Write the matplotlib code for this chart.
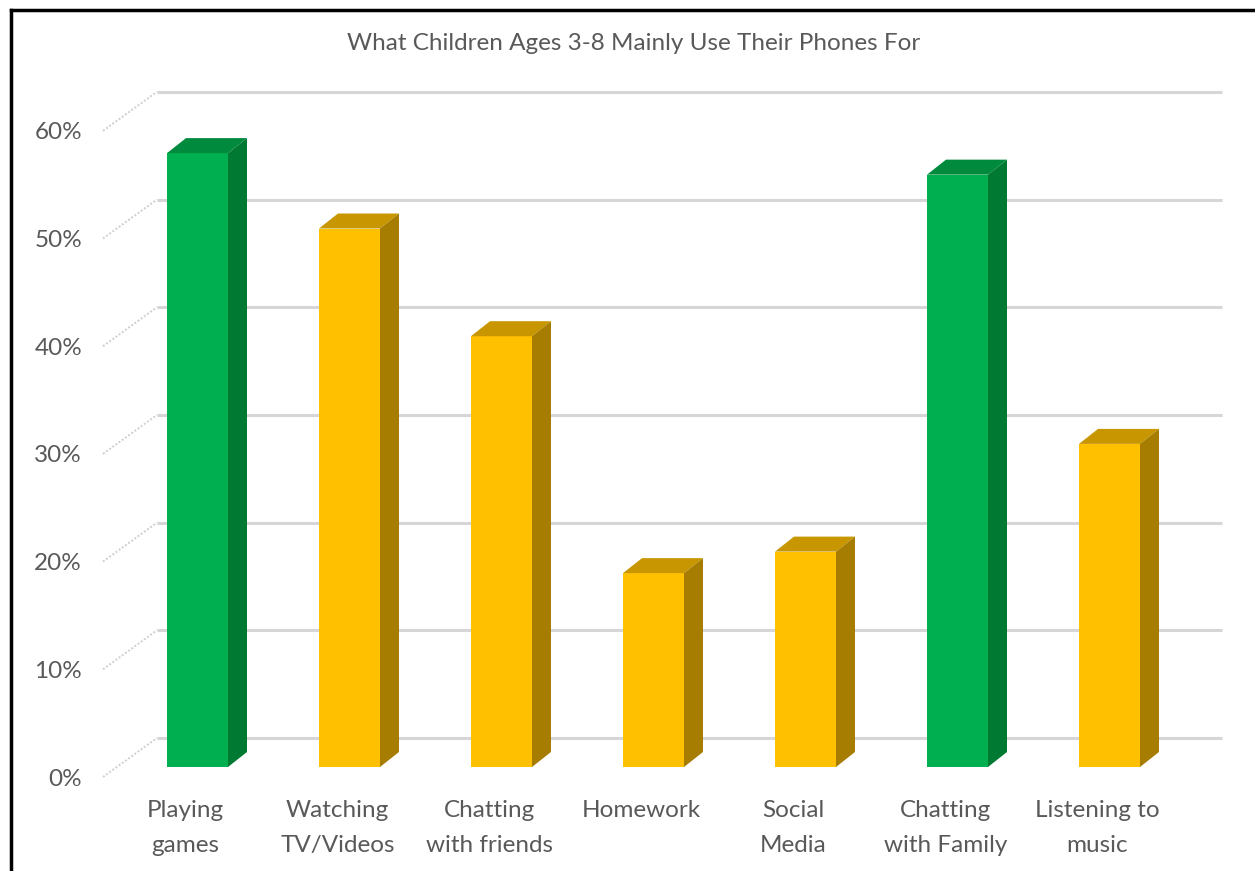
import numpy as np
import matplotlib
matplotlib.use("Agg")
import matplotlib.pyplot as plt
from matplotlib.patches import Polygon
from matplotlib.lines import Line2D

## Data
categories = ["Playing\ngames", "Watching\nTV/Videos", "Chatting\nwith friends",
              "Homework", "Social\nMedia", "Chatting\nwith Family", "Listening to\nmusic"]
values = [57, 50, 40, 18, 20, 55, 30]
highlight = [True, False, False, False, False, True, False]
yticks = [0, 10, 20, 30, 40, 50, 60]
ytick_labels = ["0%", "10%", "20%", "30%", "40%", "50%", "60%"]
title = "What Children Ages 3-8 Mainly Use Their Phones For"

## Colours (front, top, side)
green = ("#00B050", "#008A3E", "#007A33")
gold = ("#FFC000", "#C79600", "#A67D00")
txtc = "#595959"
font = "Lato"

## Geometry (pixel -> data units)
W, H = 1255, 871
xpx = 152.0      # pixels per category
ypx = 10.77      # pixels per percent
x0px, y0px = 197.5, 767.0

def dx(p): return p / xpx
def dy(p): return p / ypx

bw = dx(61)                     # bar front width
bdx, bdy = dx(19), dy(15)       # bar depth offset
back_dy = dy(29)                # back wall level above bar front
front_dy = -dy(10)              # front wall edge below bar front
wall_x0, wall_x1 = dx(103 - x0px), dx(157 - x0px)
grid_x1 = dx(1222 - x0px)

fig = plt.figure(figsize=(W / 100, H / 100), dpi=100)
ax = fig.add_axes([0, 0, 1, 1])
ax.set_xlim(dx(-x0px), dx(W - x0px))
ax.set_ylim(dy(y0px - H), dy(y0px))
ax.axis("off")

## Back gridlines and dotted side-wall lines
for v, lab in zip(yticks, ytick_labels):
    ax.plot([wall_x1, grid_x1], [v + back_dy, v + back_dy], color="#d6d6d6",
            lw=2.2, solid_capstyle="butt", zorder=1)
    ax.plot([wall_x0, wall_x1], [v + front_dy, v + back_dy], color="#cfcfcf",
            lw=1.4, ls=(0, (1, 1)), zorder=1)
    ax.text(dx(82 - x0px), v + front_dy - dy(2), lab, ha="right", va="center",
            fontsize=17.5, color=txtc, family=font)

## Bars
x = np.arange(len(values))
for xi, v, hl in zip(x, values, highlight):
    cf, ct, cs = green if hl else gold
    ax.bar(xi, v, width=bw, color=cf, zorder=3, edgecolor="none")
    l, r = xi - bw / 2, xi + bw / 2
    top = Polygon([(l, v), (r, v), (r + bdx, v + bdy), (l + bdx, v + bdy)],
                  closed=True, facecolor=ct, edgecolor="none", zorder=3)
    side = Polygon([(r, 0), (r + bdx, bdy), (r + bdx, v + bdy), (r, v)],
                   closed=True, facecolor=cs, edgecolor="none", zorder=3)
    ax.add_patch(top)
    ax.add_patch(side)

## Category labels
for xi, lab in zip(x, categories):
    ax.text(xi - dx(12), dy(y0px - 800), lab, ha="center", va="top",
            fontsize=17.5, color=txtc, family=font, linespacing=1.85)

## Title
fig.text(634 / W, 1 - 43 / H, title, ha="center", va="center",
         fontsize=17.5, color=txtc, family=font)

## Chart frame (left and top edges visible)
fig.add_artist(Line2D([11 / W, 11 / W], [0, 1 - 10 / H], color="black", lw=2.5,
                      transform=fig.transFigure))
fig.add_artist(Line2D([11 / W, 1], [1 - 10 / H, 1 - 10 / H], color="black", lw=2.5,
                      transform=fig.transFigure))

fig.savefig("out.png", dpi=100)
